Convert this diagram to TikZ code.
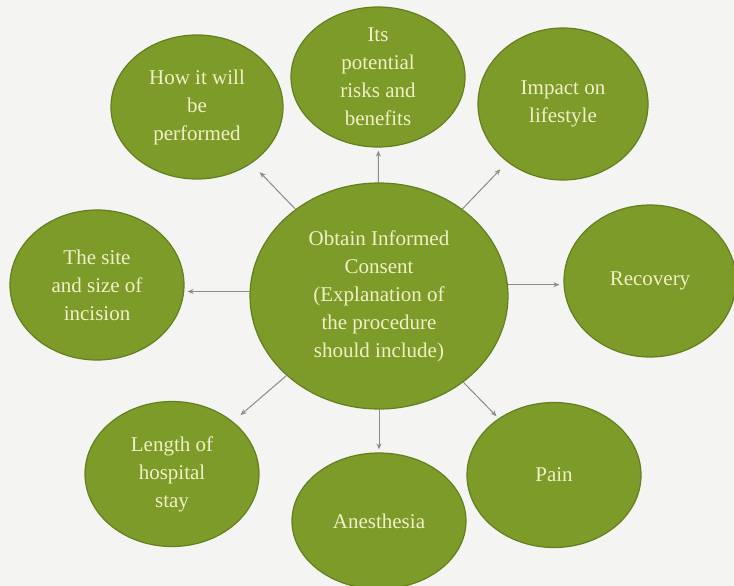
\documentclass[tikz,border=0pt]{standalone}
\usepackage{fontspec}
\setmainfont{Liberation Serif}
\usetikzlibrary{shapes.geometric,arrows.meta}
\definecolor{bg}{HTML}{F4F4F2}
\definecolor{leaf}{HTML}{7C9B28}
\definecolor{leafdark}{HTML}{637F1E}
\definecolor{cream}{HTML}{F0F0C8}
\definecolor{conn}{HTML}{8C8C88}
\tikzset{
  bubble/.style={ellipse, fill=leaf, draw=leafdark, line width=1.2pt, inner sep=0pt,
    text=cream, align=center, font=\fontsize{21}{28}\selectfont},
  link/.style={draw=conn, line width=1pt, -{Stealth[length=6pt,width=5pt]}}
}
\begin{document}
\begin{tikzpicture}[x=1pt,y=-1pt]
\fill[bg] (0,0) rectangle (734,586);
\useasboundingbox (0,0) rectangle (734,586);
\begin{scope}
\clip (0,0) rectangle (734,586);
\node[bubble, minimum width=258pt, minimum height=226pt] (c) at (379,296)
  {Obtain Informed\\Consent\\(Explanation of\\the procedure\\should include)};
\node[bubble, minimum width=172pt, minimum height=144pt] (how) at (197,107) {How it will\\be\\performed};
\node[bubble, minimum width=174pt, minimum height=140pt] (risk) at (378,77) {Its\\potential\\risks and\\benefits};
\node[bubble, minimum width=170pt, minimum height=152pt] (life) at (563,104) {Impact on\\lifestyle};
\node[bubble, minimum width=174pt, minimum height=150pt] (site) at (97,285) {The site\\and size of\\incision};
\node[bubble, minimum width=172pt, minimum height=152pt] (rec) at (650,281) {Recovery};
\node[bubble, minimum width=174pt, minimum height=145pt] (stay) at (172,474) {Length of\\hospital\\stay};
\node[bubble, minimum width=174pt, minimum height=136pt] (ane) at (379,521) {Anesthesia};
\node[bubble, minimum width=174pt, minimum height=145pt] (pain) at (554,475) {Pain};
\end{scope}
\draw[link, shorten >=12pt] (c) -- (how);
\draw[link, shorten >=3pt] (c) -- (risk);
\draw[link, shorten >=10pt] (c) -- (life);
\draw[link, shorten >=4pt] (c.5) -- (c.5 -| rec.west);
\draw[link, shorten >=3pt] (c.178) -- (c.178 -| site.east);
\draw[link, shorten >=10pt] (c) -- (stay);
\draw[link, shorten >=3pt] (c) -- (ane);
\draw[link, shorten >=3pt] (c) -- (pain);
\end{tikzpicture}
\end{document}
